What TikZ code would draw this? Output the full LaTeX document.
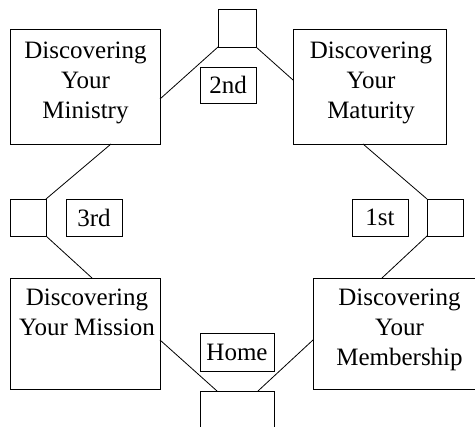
\documentclass[tikz,border=0pt]{standalone}
\usepackage{fontspec}
\setmainfont{Liberation Serif}
\begin{document}
\begin{tikzpicture}[x=1pt,y=-1pt,
  box/.style={draw,line width=0.9pt,inner sep=0pt,outer sep=0pt,rectangle},
  txt/.style={inner sep=0pt,outer sep=0pt,align=center,font=\fontsize{25}{30}\selectfont},
  conn/.style={line width=0.8pt}]
\useasboundingbox (0,0) rectangle (475,427);
\clip (0,0) rectangle (475,427);
% small square boxes
\node[box,minimum width=38pt,minimum height=38pt] (topbox) at (237,28) {};
\node[box,minimum width=36pt,minimum height=37pt] (leftbox) at (28,217.5) {};
\node[box,minimum width=36pt,minimum height=37pt] (rightbox) at (445,217.5) {};
\node[box,minimum width=74pt,minimum height=54pt] (bottombox) at (237,418) {};
% big boxes
\node[box,minimum width=150pt,minimum height=115pt] (ministry) at (85,86.5) {};
\node[box,minimum width=153pt,minimum height=115pt] (maturity) at (369.5,86.5) {};
\node[box,minimum width=150pt,minimum height=111pt] (mission) at (85,333.5) {};
\node[box,minimum width=177pt,minimum height=111pt] (membership) at (401.5,333.5) {};
% texts of big boxes
\node[txt,anchor=north] (ministrytext) at (85.5,42) {Discovering\\Your\\Ministry};
\node[txt,anchor=north] (maturitytext) at (371,42) {Discovering\\Your\\Maturity};
\node[txt,anchor=north] (missiontext) at (87,289) {Discovering\\Your Mission};
\node[txt,anchor=north] (membershiptext) at (399.5,289) {Discovering\\Your\\Membership};
% label boxes
\node[box,txt,minimum width=56pt,minimum height=36pt] (lbl2) at (228,85) {2nd};
\node[box,txt,minimum width=56pt,minimum height=37pt] (lbl3) at (94,217.5) {3rd};
\node[box,txt,minimum width=56pt,minimum height=37pt] (lbl1) at (380,217.5) {1st};
\node[box,txt,minimum width=74pt,minimum height=38pt] (lblhome) at (237,352) {Home};
% connectors
\draw[conn] (topbox.south west) -- ([yshift=-12.5pt]ministry.east);
\draw[conn] (topbox.south east) -- ([yshift=6.5pt]maturity.west);
\draw[conn] ([xshift=26pt]ministry.south) -- (leftbox.north east);
\draw[conn] ([xshift=-6.5pt]maturity.south) -- (rightbox.north west);
\draw[conn] (leftbox.south east) -- ([xshift=7pt]mission.north);
\draw[conn] (rightbox.south west) -- ([xshift=-19.5pt]membership.north);
\draw[conn] ([yshift=-6.5pt]mission.east) -- ([xshift=-20pt]bottombox.north);
\draw[conn] ([xshift=21pt]bottombox.north) -- ([yshift=-6.5pt]membership.west);
\end{tikzpicture}
\end{document}
